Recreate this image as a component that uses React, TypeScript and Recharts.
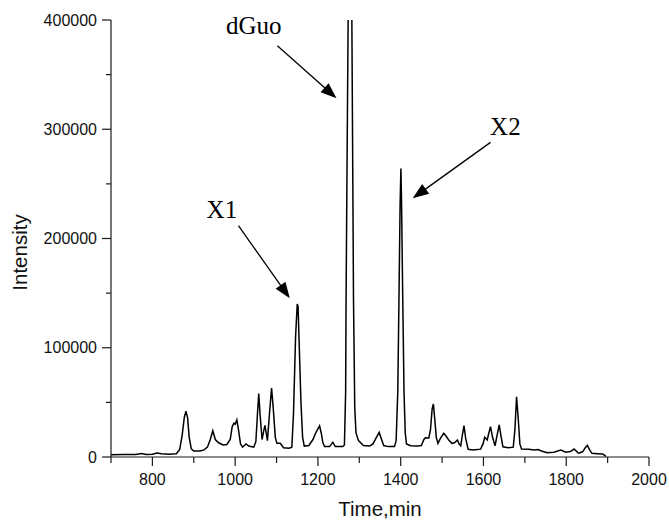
import React from 'react';
import { LineChart, Line, XAxis, YAxis, ReferenceLine, ReferenceDot, Label } from 'recharts';

const times = [700,730,760,774,785,800,811,822,840,858,866,872,877,881,885,889,894,900,915,925,933,940,946,952,960,971,980,988,993,997,1000,1004,1008,1013,1018,1026,1033,1045,1050,1054,1057,1060,1065,1069,1072,1075,1078,1083,1088,1092,1097,1101,1109,1117,1130,1137,1141,1146,1150,1152,1155,1159,1163,1167,1178,1188,1194,1199,1204,1208,1212,1216,1228,1236,1242,1260,1264,1267,1268,1271,1273,1277.5,1282,1286,1289,1292,1298,1310,1325,1333,1340,1348,1353,1359,1370,1385,1389,1393,1396,1398.5,1400.5,1402,1405,1408,1411,1414,1424,1440,1450,1456,1460,1468,1472,1476,1479,1482,1486,1490,1496,1504,1510,1517,1524,1530,1537,1541,1545,1549,1553,1557,1563,1575,1593,1599,1603,1609,1613,1617,1622,1628,1633,1638,1642,1647,1660,1672,1676,1680,1684,1688,1692,1710,1722,1732,1740,1754,1770,1787,1799,1810,1819,1828,1831,1840,1846,1851,1856,1862,1875,1888,1893,1896];
const intensity = [2000,2200,2300,3200,2400,2600,3600,3000,2500,3000,7000,20000,36000,42000,36000,18000,7500,5500,5500,6500,9000,16000,24000,16000,13000,11000,11500,16000,28000,31000,30000,34000,25000,12000,9000,12000,10000,9000,14000,40000,58000,40000,16000,24000,29000,22000,15000,40000,63000,45000,18000,12500,12500,8500,8000,9000,40000,110000,140000,138000,100000,50000,18000,10000,10500,16000,21500,25000,28500,22000,13000,9500,9500,13500,9500,9500,11000,60000,143000,300000,400000,700000,400000,143000,45000,22000,15000,10500,10000,12000,17000,22500,17000,10500,9500,9500,15000,60000,150000,230000,264000,235000,143000,60000,22000,12000,10300,10000,10500,16000,17700,17500,25000,44000,48500,36000,18000,12500,17000,21700,19000,15000,12500,13000,15600,12000,10300,20000,28700,17000,7000,6500,7200,12000,18000,15600,22000,27800,18000,10300,20000,29300,20000,9400,8500,9000,25000,55200,35000,12000,7300,7000,6500,6800,5500,4000,4300,6400,4300,5000,7300,4000,3400,5000,8500,10700,7000,3400,3000,2700,1500,500];

const xTicks = [700,800,900,1000,1100,1200,1300,1400,1500,1600,1700,1800,1900,2000];
const yTicks = [0,50000,100000,150000,200000,250000,300000,350000,400000];

const annotationLabels = [
  { text: 'dGuo', x: 978, y: 387200 },
  { text: 'X1', x: 931, y: 218500 },
  { text: 'X2', x: 1616, y: 294700 },
];
const arrows = [
  { from: { x: 1102, y: 376500 }, to: { x: 1245, y: 328300 } },
  { from: { x: 1008, y: 211700 }, to: { x: 1132, y: 145300 } },
  { from: { x: 1617, y: 288000 }, to: { x: 1429, y: 236800 } },
];

const data = times.map((t, i) => ({ t, v: intensity[i] }));

const AX = '#1a1a1a';
const SANS = '"Liberation Sans", Arial, sans-serif';
const SERIF = '"Liberation Serif", "Times New Roman", serif';

const YTick = (props: any) => {
  const { x, y, payload } = props;
  const major = payload.value % 100000 === 0;
  const len = major ? 9 : 5;
  return (
    <g>
      <line x1={x} x2={x - len} y1={y} y2={y} stroke={AX} strokeWidth={1.2} />
      {major && (
        <text x={x - 14} y={y} dy="0.355em" textAnchor="end" fontSize={16} fontFamily={SANS} fill="#111">
          {payload.value}
        </text>
      )}
    </g>
  );
};

const XTick = (props: any) => {
  const { x, y, payload } = props;
  const major = payload.value % 200 === 0;
  const len = major ? 9 : 6;
  return (
    <g>
      <line x1={x} x2={x} y1={y} y2={y + len} stroke={AX} strokeWidth={1.2} />
      {major && (
        <text x={x} y={y + 17} dy="0.71em" textAnchor="middle" fontSize={16} fontFamily={SANS} fill="#111">
          {payload.value}
        </text>
      )}
    </g>
  );
};

const arrowShape = (p: any) => {
  const { x1, y1, x2, y2 } = p;
  if ([x1, y1, x2, y2].some((v) => typeof v !== 'number' || isNaN(v))) return <g />;
  const dx = x2 - x1;
  const dy = y2 - y1;
  const L = Math.sqrt(dx * dx + dy * dy);
  const ux = dx / L;
  const uy = dy / L;
  const hl = 16;
  const hw = 6;
  const bx = x2 - ux * hl;
  const by = y2 - uy * hl;
  const px = -uy;
  const py = ux;
  return (
    <g>
      <line x1={x1} y1={y1} x2={bx + ux * 2} y2={by + uy * 2} stroke="#000" strokeWidth={1.3} />
      <polygon
        points={`${x2},${y2} ${bx + px * hw},${by + py * hw} ${bx - px * hw},${by - py * hw}`}
        fill="#000"
      />
    </g>
  );
};

const textShape = (txt: string) => (p: any) => (
  <text x={p.cx} y={p.cy} textAnchor="start" fontSize={25} fontFamily={SERIF} fill="#000">
    {txt}
  </text>
);

export default function App() {
  return (
    <div style={{ position: 'absolute', left: 0, top: 0, width: 669, height: 520, background: '#fff' }}>
      <LineChart width={669} height={520} data={data} margin={{ top: 20, right: 20, bottom: 0, left: 0 }}>
        <XAxis
          type="number"
          dataKey="t"
          domain={[700, 2000]}
          ticks={xTicks}
          interval={0}
          height={63}
          tickSize={0}
          tickMargin={0}
          tickLine={false}
          tick={<XTick />}
          axisLine={{ stroke: AX, strokeWidth: 1.2 }}
        >
          <Label
            content={(p: any) => {
              const vb = p.viewBox || { x: 111, y: 457, width: 538, height: 63 };
              return (
                <text x={vb.x + vb.width / 2} y={vb.y + 59} textAnchor="middle" fontSize={20.5} fontFamily={SANS} fill="#111">
                  Time,min
                </text>
              );
            }}
          />
        </XAxis>
        <YAxis
          type="number"
          domain={[0, 400000]}
          allowDataOverflow
          ticks={yTicks}
          interval={0}
          width={111}
          tickSize={0}
          tickMargin={0}
          tickLine={false}
          tick={<YTick />}
          axisLine={{ stroke: AX, strokeWidth: 1.2 }}
        >
          <Label
            content={(p: any) => {
              const vb = p.viewBox || { x: 0, y: 20, width: 111, height: 437 };
              const cx = vb.x + 19.5;
              const cy = vb.y + vb.height / 2 + 14;
              return (
                <text
                  x={cx}
                  y={cy}
                  transform={`rotate(-90, ${cx}, ${cy})`}
                  textAnchor="middle"
                  dominantBaseline="central"
                  fontSize={20.5}
                  fontFamily={SANS}
                  fill="#111"
                >
                  Intensity
                </text>
              );
            }}
          />
        </YAxis>
        <Line
          type="linear"
          dataKey="v"
          stroke="#000"
          strokeWidth={1.5}
          dot={false}
          activeDot={false}
          isAnimationActive={false}
        />
        {arrows.map((a, i) => (
          <ReferenceLine key={'a' + i} segment={[a.from, a.to]} shape={arrowShape} ifOverflow="visible" />
        ))}
        {annotationLabels.map((l, i) => (
          <ReferenceDot key={'l' + i} x={l.x} y={l.y} r={1} shape={textShape(l.text)} ifOverflow="visible" />
        ))}
      </LineChart>
    </div>
  );
}
